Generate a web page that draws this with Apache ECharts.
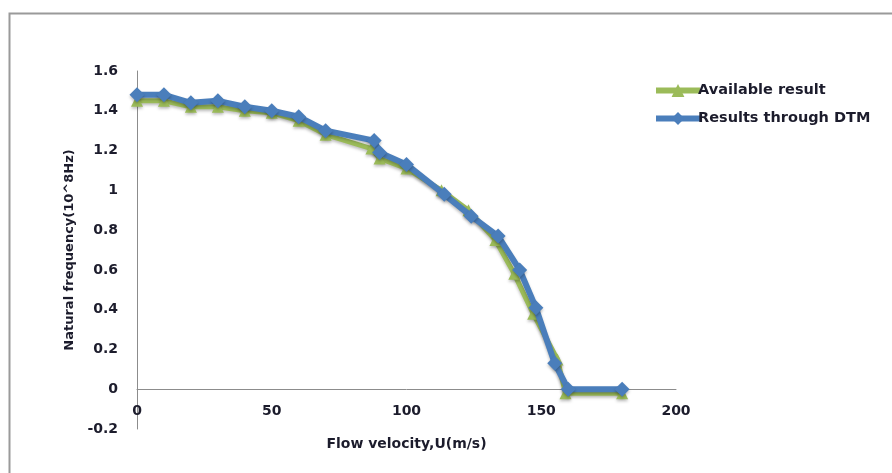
<!DOCTYPE html>
<html>
<head>
<meta charset="utf-8">
<script src="https://cdn.jsdelivr.net/npm/echarts@6/dist/echarts.min.js"></script>
<style>html,body{margin:0;padding:0;background:#fff}#c{width:892px;height:473px}</style>
</head>
<body>
<div id="c"></div>
<script>
var availX = [0, 10, 20, 30, 40, 50, 60, 70, 87, 90, 100, 113, 123, 133, 140, 147, 156, 159, 180];
var availY = [1.45, 1.45, 1.42, 1.42, 1.40, 1.39, 1.35, 1.28, 1.21, 1.16, 1.11, 1.00, 0.90, 0.75, 0.58, 0.38, 0.15, -0.02, -0.02];
var dtmX = [0, 10, 20, 30, 40, 50, 60, 70, 88, 90, 100, 114, 124, 134, 142, 148, 155, 160, 180];
var dtmY = [1.48, 1.48, 1.44, 1.45, 1.42, 1.40, 1.37, 1.30, 1.25, 1.19, 1.13, 0.98, 0.87, 0.77, 0.60, 0.41, 0.13, 0.0, 0.0];
var seriesNames = ['Available result', 'Results through DTM'];
var xTitle = 'Flow velocity,U(m/s)';
var yTitle = 'Natural frequency(10^8Hz)';

function pairs(xs, ys) { return xs.map(function (x, i) { return [x, ys[i]]; }); }

var chart = echarts.init(document.getElementById('c'));
var txt = '#1c1c2c';
var font = 'DejaVu Sans';
chart.setOption({
  animation: false,
  backgroundColor: '#fff',
  graphic: [{
    type: 'rect', left: 7, top: 11, shape: { width: 1000, height: 600 },
    style: { fill: 'none', stroke: '#9a9a9a', lineWidth: 2 }, z: -1
  }],
  grid: { left: 137, right: 216, top: 71, bottom: 44, containLabel: false, outerBoundsMode: 'none' },
  legend: {
    orient: 'vertical', left: 648, top: 78, itemGap: 13,
    itemWidth: 44, itemHeight: 16,
    lineStyle: { width: 6 },
    textStyle: { color: txt, fontSize: 14.5, fontWeight: 'bold', fontFamily: font, padding: [0, 0, 0, -7] },
    data: seriesNames
  },
  xAxis: {
    type: 'value', min: 0, max: 200, interval: 50,
    name: xTitle, nameLocation: 'middle', nameGap: 8,
    nameTextStyle: { color: txt, fontSize: 14, fontWeight: 'bold', fontFamily: font },
    axisLine: { onZero: true, lineStyle: { color: '#8c8c8c', width: 1 } },
    axisTick: { show: false },
    axisLabel: { color: txt, fontSize: 14, fontWeight: 'bold', fontFamily: font, margin: -25 },
    splitLine: { show: false }
  },
  yAxis: {
    type: 'value', min: -0.2, max: 1.6, interval: 0.2,
    name: yTitle, nameLocation: 'middle', nameGap: 61,
    nameTextStyle: { color: txt, fontSize: 13, fontWeight: 'bold', fontFamily: font },
    axisLine: { show: true, onZero: false, lineStyle: { color: '#8c8c8c', width: 1 } },
    axisTick: { show: false },
    axisLabel: {
      color: txt, fontSize: 14, fontWeight: 'bold', fontFamily: font, margin: 19,
      formatter: function (v) { return String(Math.round(v * 10) / 10); }
    },
    splitLine: { show: false }
  },
  series: [{
    name: seriesNames[0], type: 'line', data: pairs(availX, availY),
    symbol: 'triangle', symbolSize: 12,
    itemStyle: { color: '#9bbb59', shadowColor: 'rgba(0,0,0,0.25)', shadowBlur: 3, shadowOffsetY: 2 },
    lineStyle: { color: '#9bbb59', width: 5, shadowColor: 'rgba(0,0,0,0.25)', shadowBlur: 3, shadowOffsetY: 2 },
    z: 2
  }, {
    name: seriesNames[1], type: 'line', data: pairs(dtmX, dtmY),
    symbol: 'diamond', symbolSize: 15,
    itemStyle: { color: '#4a7ebb', shadowColor: 'rgba(0,0,0,0.25)', shadowBlur: 3, shadowOffsetY: 2 },
    lineStyle: { color: '#4a7ebb', width: 6, shadowColor: 'rgba(0,0,0,0.25)', shadowBlur: 3, shadowOffsetY: 2 },
    z: 3
  }]
});
</script>
</body>
</html>
